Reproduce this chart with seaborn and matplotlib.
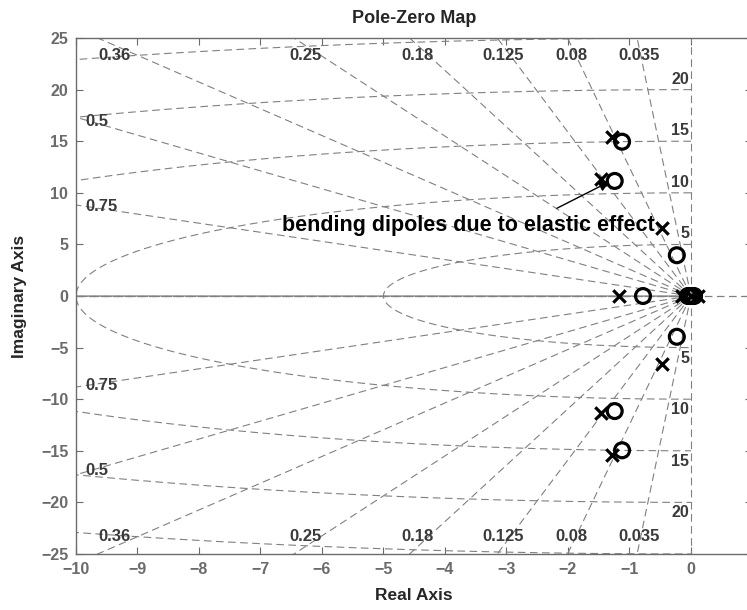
import numpy as np
import pandas as pd
import matplotlib
matplotlib.use("Agg")
import matplotlib.pyplot as plt
import seaborn as sns

# poler og nullpunkt lest av figuren (re, im)
pole_re = [-1.28, -1.28, -1.46, -1.46, -0.47, -0.47, -1.17, -0.15, 0.0, 0.12]
pole_im = [15.4, -15.4, 11.3, -11.3, 6.6, -6.6, 0.0, 0.0, 0.0, 0.0]
zero_re = [-1.12, -1.12, -1.24, -1.24, -0.23, -0.23, -0.78, -0.05, -0.02, 0.02, 0.05]
zero_im = [14.95, -14.95, 11.15, -11.15, 3.95, -3.95, 0.0, 0.0, 0.0, 0.0, 0.0]

# sgrid: dempingslinjer og egenfrekvens-sirkler
zeta_top = [0.035, 0.08, 0.125, 0.18, 0.25, 0.36]
zeta_side = [0.5, 0.75]
wn_rings = [5, 10, 15, 20, 25]
wn_labels = [5, 10, 15, 20]

annot_text = "bending dipoles due to elastic effect"

sns.set_style("ticks")
plt.rcParams["font.family"] = ["Liberation Sans", "DejaVu Sans"]
plt.rcParams["font.weight"] = "bold"
plt.rcParams["lines.scale_dashes"] = False

grid_col = "#808080"
tick_col = "#6b6b6b"
lab_col = "#3a3a3a"
dash = (0, (5.5, 3.2))

# bygger linjene i rutenettet
rows = []
lid = 0
for z in [0.0] + zeta_top + zeta_side + [1.0]:
    for sgn in (1, -1):
        R = 60
        rows.append((lid, 0.0, 0.0))
        rows.append((lid, -R * z, sgn * R * np.sqrt(1 - z ** 2)))
        lid += 1
th = np.linspace(np.pi / 2, 3 * np.pi / 2, 400)
for wn in wn_rings:
    for t in th:
        rows.append((lid, wn * np.cos(t), wn * np.sin(t)))
    lid += 1
grid_df = pd.DataFrame(rows, columns=["line", "re", "im"])

fig = plt.figure(figsize=(7.47, 6.1), dpi=100)
ax = fig.add_axes([0.1017, 0.0918, 0.9056, 0.8459])

# x-akse gjennom origo
ax.plot([-10, 0], [0, 0], color="#a8a8a8", lw=1.2, zorder=1)
ax.plot([-10, 1], [0, 0], color=grid_col, lw=0.9, linestyle=dash, zorder=1)

sns.lineplot(data=grid_df, x="re", y="im", units="line", estimator=None, sort=False,
             color=grid_col, lw=0.8, linestyle=dash, ax=ax, zorder=1)

poles = pd.DataFrame({"re": pole_re, "im": pole_im})
zeros = pd.DataFrame({"re": zero_re, "im": zero_im})
sns.scatterplot(data=zeros, x="re", y="im", marker="o", s=115, facecolor="none",
                edgecolor="black", linewidth=2.3, ax=ax, zorder=3)
sns.scatterplot(data=poles, x="re", y="im", marker="x", s=80, color="black",
                linewidth=2.3, ax=ax, zorder=3)

# etiketter for demping
for z in zeta_top:
    xl = -24.3 * z / np.sqrt(1 - z ** 2)
    for yl in (23.35, -23.3):
        ax.text(xl, yl, f"{z:g}", ha="center", va="center", fontsize=12,
                color=lab_col, fontweight="bold")
for z in zeta_side:
    yv = 9.78 * np.sqrt(1 - z ** 2) / z
    for yl in (yv, -yv):
        ax.text(-9.84, yl, f"{z:g}", ha="left", va="center", fontsize=12,
                color=lab_col, fontweight="bold")
for wn in wn_labels:
    ax.text(-0.03, wn + 0.3, str(wn), ha="right", va="bottom", fontsize=11.5,
            color=lab_col, fontweight="bold")
    ax.text(-0.03, -wn - 0.3, str(wn), ha="right", va="top", fontsize=11.5,
            color=lab_col, fontweight="bold")

ax.text(-6.65, 6.8, annot_text, ha="left", va="center", fontsize=15.5,
        fontweight="bold", color="black")
ax.annotate("", xy=(pole_re[2] + 0.14, pole_im[2] - 0.2), xytext=(-2.18, 8.5),
            arrowprops=dict(arrowstyle="-|>", color="black", lw=1,
                            mutation_scale=16, shrinkA=0, shrinkB=0))

ax.set_xlim(-10, 1)
ax.set_ylim(-25, 25)
ax.set_xticks(range(-10, 1))
ax.set_yticks(range(-25, 26, 5))
ax.tick_params(direction="in", top=True, right=True, length=5, width=0.8,
               color=tick_col, labelcolor=tick_col, labelsize=11.5, pad=5.5)
for s in ax.spines.values():
    s.set_visible(True)
    s.set_color(tick_col)
    s.set_linewidth(1)

ax.set_title("Pole-Zero Map", fontsize=13, fontweight="bold", pad=11)
ax.set_xlabel("Real Axis", fontsize=12.5, fontweight="bold")
ax.set_ylabel("Imaginary Axis", fontsize=12.5, fontweight="bold")
ax.xaxis.set_label_coords(0.5, -0.066)
ax.yaxis.set_label_coords(-0.073, 0.5)

fig.savefig("out.png", dpi=100)
